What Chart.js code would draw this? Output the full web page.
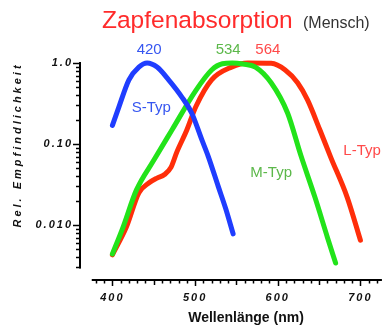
<!DOCTYPE html>
<html>
<head>
<meta charset="utf-8">
<script src="https://cdn.jsdelivr.net/npm/chart.js@4.4.1/dist/chart.umd.min.js"></script>
<style>
  html, body { margin: 0; padding: 0; background: #fff; }
  #wrap { position: relative; width: 388px; height: 329px; }
</style>
</head>
<body>
<div id="wrap"><canvas id="cones"></canvas></div>
<script>
    /* ===============================
       DATA
    =============================== */
    // S-Typ (blue)
    const sWavelength = [400, 408, 420, 432, 442, 454, 468, 484, 496, 508, 516, 528, 537, 546];
    const sSensitivity = [0.17, 0.29, 0.62, 0.89, 1.0, 0.89, 0.62, 0.38, 0.24, 0.114, 0.07, 0.03, 0.016, 0.0078];

    // M-Typ (green)
    const mWavelength = [400, 412, 429, 450, 472, 501, 520, 533, 545, 558, 573, 592, 612, 628, 645, 660, 670];
    const mSensitivity = [0.0044, 0.0089, 0.027, 0.063, 0.149, 0.46, 0.82, 0.98, 1.0, 0.97, 0.89, 0.57, 0.24, 0.072, 0.022, 0.0071, 0.0034];

    // L-Typ (red)
    const lWavelength = [400, 417, 432, 444, 454, 463, 471, 478, 490, 501, 520, 544, 564, 592, 609, 624, 636, 651, 664, 684, 700];
    const lSensitivity = [0.0043, 0.0095, 0.025, 0.033, 0.038, 0.042, 0.052, 0.08, 0.149, 0.29, 0.62, 0.89, 1.0, 0.99, 0.82, 0.57, 0.35, 0.149, 0.069, 0.022, 0.0065];

    // axis ticks
    const xTickValues = [380, 390, 400, 410, 420, 430, 440, 450, 460, 470, 480, 490, 500, 510, 520, 530, 540, 550, 560, 570, 580, 590, 600, 610, 620, 630, 640, 650, 660, 670, 680, 690, 700, 710, 720];
    const xTickLabels = { 400: "400", 500: "500", 600: "600", 700: "700" };
    const yTickValues = [1, 0.9, 0.8, 0.7, 0.6, 0.5, 0.4, 0.3, 0.2, 0.1, 0.09, 0.08, 0.07, 0.06, 0.05, 0.04, 0.03, 0.02, 0.01, 0.009, 0.008, 0.007, 0.006, 0.005, 0.004, 0.003];
    const yTickLabels = { 1: "1.0", 0.1: "0.10", 0.01: "0.010" };

    // labels in the plot, placed in data units
    const noteTexts = ["420", "534", "564", "S-Typ", "M-Typ", "L-Typ"];
    const noteWavelength = [444.5, 540, 588, 447, 592, 702];
    const noteSensitivity = [1.29, 1.29, 1.29, 0.248, 0.039, 0.073];
    const noteColors = ["#3656f0", "#5cb84a", "#ff4a4a", "#3656f0", "#5cb84a", "#ff4a4a"];

    const FONT = "'Liberation Sans', Arial, sans-serif";
    const toPoints = (xs, ys) => xs.map((x, i) => ({ x, y: ys[i] }));

    const lineStyle = color => ({
        borderColor: color,
        backgroundColor: color,
        borderWidth: 5,
        pointRadius: 0,
        borderCapStyle: "round",
        borderJoinStyle: "round",
        cubicInterpolationMode: "monotone",
        clip: false,
        fill: false
    });

    /* ===============================
       DECORATION: axes, ticks, texts
    =============================== */
    const decor = {
        id: "coneDecor",
        beforeDraw(chart) {
            chart.ctx.letterSpacing = "2px"; // spaced tick labels
        },
        afterDraw(chart) {
            const ctx = chart.ctx;
            const xs = chart.scales.x, ys = chart.scales.y;
            const left = chart.chartArea.left;
            const bottom = chart.chartArea.bottom;
            ctx.save();
            ctx.letterSpacing = "0px";
            ctx.strokeStyle = "#000";

            // y axis line + ticks
            ctx.lineWidth = 2;
            ctx.beginPath();
            ctx.moveTo(left - 1, ys.getPixelForValue(1) - 1);
            ctx.lineTo(left - 1, ys.getPixelForValue(0.003) + 1);
            ctx.stroke();
            ctx.lineWidth = 1.5;
            yTickValues.forEach(v => {
                const py = Math.round(ys.getPixelForValue(v)) + 0.5;
                const len = yTickLabels[v] ? 7 : 4;
                ctx.beginPath();
                ctx.moveTo(left - 1 - len, py);
                ctx.lineTo(left, py);
                ctx.stroke();
            });

            // x axis line + ticks
            ctx.lineWidth = 2;
            ctx.beginPath();
            ctx.moveTo(xs.getPixelForValue(375), bottom);
            ctx.lineTo(xs.getPixelForValue(726), bottom);
            ctx.stroke();
            ctx.lineWidth = 1.5;
            xTickValues.forEach(v => {
                const px = Math.round(xs.getPixelForValue(v)) + 0.5;
                const len = v % 100 === 0 ? 5 : (v % 50 === 0 ? 4 : 2.5);
                ctx.beginPath();
                ctx.moveTo(px, bottom);
                ctx.lineTo(px, bottom + 1 + len);
                ctx.stroke();
            });

            // notes
            ctx.font = "15px " + FONT;
            ctx.textAlign = "center";
            ctx.textBaseline = "alphabetic";
            noteTexts.forEach((t, i) => {
                ctx.fillStyle = noteColors[i];
                ctx.fillText(t, xs.getPixelForValue(noteWavelength[i]), ys.getPixelForValue(noteSensitivity[i]));
            });

            // title
            ctx.textAlign = "left";
            ctx.fillStyle = "#ff2b2b";
            ctx.font = "24.5px " + FONT;
            ctx.fillText("Zapfenabsorption", 102, 28);
            ctx.fillStyle = "#333";
            ctx.font = "16px " + FONT;
            ctx.fillText("(Mensch)", 303, 28);

            // axis titles
            ctx.fillStyle = "#111";
            ctx.font = "bold 14px " + FONT;
            ctx.textAlign = "center";
            ctx.fillText("Wellenl\u00e4nge (nm)", 246, 322);

            ctx.save();
            ctx.translate(21, 146);
            ctx.rotate(-Math.PI / 2);
            ctx.letterSpacing = "3px";
            ctx.font = "italic bold 11px " + FONT;
            ctx.fillText("Rel. Empfindlichkeit", 1, 0);
            ctx.restore();

            ctx.restore();
        }
    };

    new Chart(document.getElementById("cones").getContext("2d"), {
        type: "line",
        data: {
            datasets: [
                { label: "S-Typ", data: toPoints(sWavelength, sSensitivity), ...lineStyle("#1f3dff") },
                { label: "M-Typ", data: toPoints(mWavelength, mSensitivity), ...lineStyle("#22e31a") },
                { label: "L-Typ", data: toPoints(lWavelength, lSensitivity), ...lineStyle("#ff2e0a") }
            ]
        },
        options: {
            responsive: true,
            maintainAspectRatio: false,
            animation: false,
            layout: { padding: { top: 63, right: 2, left: 0, bottom: 0 } },
            plugins: { legend: { display: false }, tooltip: { enabled: false } },
            scales: {
                x: {
                    type: "linear",
                    min: 362,
                    max: 728,
                    afterBuildTicks: s => { s.ticks = xTickValues.map(v => ({ value: v })); },
                    afterFit: s => { s.height = 49; },
                    grid: { display: false, drawTicks: false },
                    border: { display: false },
                    ticks: {
                        autoSkip: false,
                        maxRotation: 0,
                        padding: 11,
                        color: "#111",
                        font: { family: FONT, size: 11, style: "italic", weight: "bold" },
                        callback: v => xTickLabels[v] || ""
                    }
                },
                y: {
                    type: "logarithmic",
                    min: 0.0021,
                    max: 1,
                    afterBuildTicks: s => { s.ticks = yTickValues.map(v => ({ value: v })); },
                    afterFit: s => { s.width = 81; },
                    grid: { display: false, drawTicks: false },
                    border: { display: false },
                    ticks: {
                        autoSkip: false,
                        padding: 8,
                        color: "#111",
                        font: { family: FONT, size: 11, style: "italic", weight: "bold" },
                        callback: v => yTickLabels[v] || ""
                    }
                }
            }
        },
        plugins: [decor]
    });
</script>
</body>
</html>
